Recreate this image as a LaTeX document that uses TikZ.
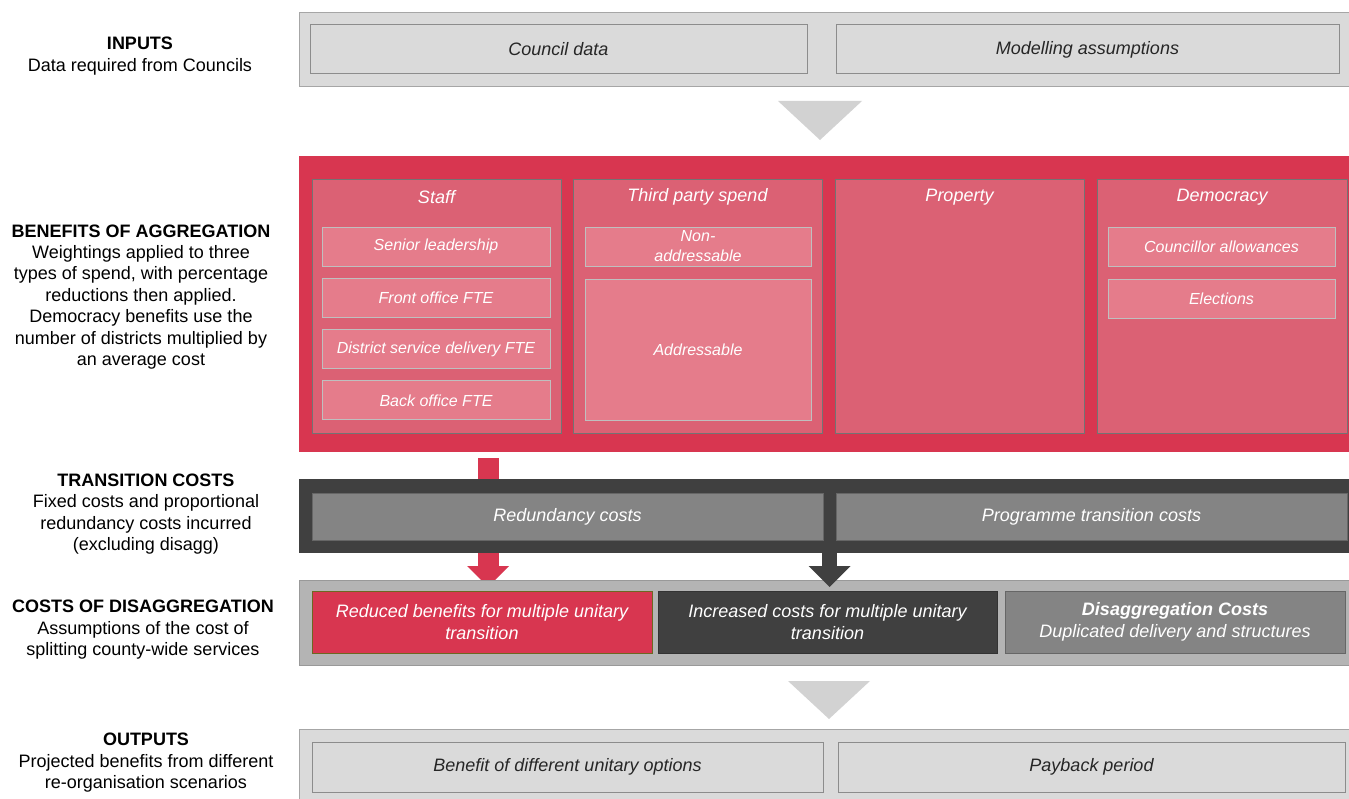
\documentclass[tikz,border=0pt]{standalone}
\usepackage{fontspec}
\setmainfont{Liberation Sans}
\usetikzlibrary{arrows.meta,calc}

\definecolor{aggred}{HTML}{D83650}
\definecolor{colred}{HTML}{DB6174}
\definecolor{itemred}{HTML}{E57C8B}
\definecolor{darkband}{HTML}{404040}
\definecolor{midgray}{HTML}{848484}
\definecolor{lightband}{HTML}{DADADA}
\definecolor{disband}{HTML}{B4B4B4}
\definecolor{pointer}{HTML}{D2D2D2}

\begin{document}
\begin{tikzpicture}[x=0.75pt, y=-0.75pt,
	size/.style 2 args={minimum width=#1*0.75pt, minimum height=#2*0.75pt, anchor=north west},
	band/.style={inner sep=0pt, outer sep=0pt, line width=0.75pt},
	boxtext/.style={align=center, font=\fontsize{13.5}{16.5}\selectfont\itshape},
	lightshell/.style={band, fill=lightband, draw=black!35},
	lightbox/.style={band, boxtext, fill=lightband, draw=black!45, text=black!85},
	aggshell/.style={band, fill=aggred},
	column/.style={band, fill=colred, draw=black!55},
	item/.style={band, fill=itemred, draw=black!25, text=white, align=center,
		font=\fontsize{12}{15}\selectfont\itshape},
	head/.style={boxtext, text=white, inner sep=0pt},
	darkshell/.style={band, fill=darkband},
	midbox/.style={band, boxtext, fill=midgray, draw=black!60, text=white},
	lab/.style={align=center, inner sep=0pt, font=\fontsize{13.5}{16.1}\selectfont},
	blockarrow/.style={line width=#1, -{Triangle[width=31.5pt, length=15.75pt, line width=0pt]}}
	]
	\useasboundingbox (0,0) rectangle (1349,799);

	%side labels
	\node[lab] (inlab) at (140,56) {\textbf{INPUTS}\\Data required from Councils};
	\node[lab] (agglab) at (141,297) {\textbf{BENEFITS OF AGGREGATION}\\Weightings applied to three\\types of spend, with percentage\\reductions then applied.\\Democracy benefits use the\\number of districts multiplied by\\an average cost};
	\node[lab] (translab) at (146,514) {\textbf{TRANSITION COSTS}\\Fixed costs and proportional\\redundancy costs incurred\\(excluding disagg)};
	\node[lab] (dislab) at (143,630) {\textbf{COSTS OF DISAGGREGATION}\\Assumptions of the cost of\\splitting county-wide services};
	\node[lab] (outlab) at (146,763) {\textbf{OUTPUTS}\\Projected benefits from different\\re-organisation scenarios};

	%inputs
	\node[lightshell, size={1053}{74}] (inputs) at (299,13) {};
	\node[lightbox, size={497}{49}] (council) at (310,25) {Council data};
	\node[lightbox, size={503}{49}] (model) at (836,25) {Modelling assumptions};
	\fill[pointer] (778,101) -- (862,101) -- (820,140) -- cycle;

	%benefits of aggregation
	\node[aggshell, size={1053}{296}] (benefits) at (299,156) {};
	\node[column, size={249}{254}] (staff) at (312,179) {};
	\node[column, size={249}{254}] (third) at (573,179) {};
	\node[column, size={249}{254}] (property) at (835,179) {};
	\node[column, size={250}{254}] (democracy) at (1097,179) {};
	\node[head] (stafft) at ($(staff.north)+(0,18)$) {Staff};
	\node[head] (thirdt) at ($(third.north)+(0,18)$) {Third party spend};
	\node[head] (propertyt) at ($(property.north)+(0,18)$) {Property};
	\node[head] (democracyt) at ($(democracy.north)+(0,18)$) {Democracy};

	\foreach \t [count=\i] in {Senior leadership, Front office FTE, District service delivery FTE, Back office FTE}{
		\pgfmathsetmacro{\ytop}{227+51.3*(\i-1)}
		\node[item, size={228}{39}] (staff\i) at (322,\ytop) {\t};
	}
	\node[item, size={226}{39}] (nonaddr) at (585,227) {Non-\\addressable};
	\node[item, size={226}{141}] (addr) at (585,279) {Addressable};
	\node[item, size={227}{39}] (allow) at (1108,227) {Councillor allowances};
	\node[item, size={227}{39}] (elect) at (1108,279) {Elections};

	%red arrow runs behind the transition band
	\coordinate (redstart) at (488,458);
	\coordinate (redend) at (488,587);
	\draw[aggred, blockarrow=15.75pt] (redstart) -- (redend);

	%transition costs
	\node[darkshell, size={1053}{74}] (transition) at (299,479) {};
	\node[midbox, size={511}{47}] (redund) at (312,493) {Redundancy costs};
	\node[midbox, size={511}{47}] (programme) at (836,493) {Programme transition costs};

	%costs of disaggregation
	\node[band, fill=disband, draw=black!40, size={1053}{85}] (disagg) at (299,580) {};
	\node[band, boxtext, fill=aggred, draw=olive!70!black, text=white, size={340}{62}] (reduced) at (312,591) {Reduced benefits for multiple unitary\\transition};
	\node[band, boxtext, fill=darkband, draw=black!80, text=white, size={339}{62}] (increased) at (658,591) {Increased costs for multiple unitary\\transition};
	\node[midbox, size={340}{62}] (duplicated) at (1005,591) {\textbf{Disaggregation Costs}\\Duplicated delivery and structures};

	%dark arrow out of the gap between the transition boxes
	\coordinate (darkstart) at (829.5,553);
	\coordinate (darkend) at (829.5,587);
	\draw[darkband, blockarrow=11.25pt] (darkstart) -- (darkend);

	\fill[pointer] (788,681) -- (870,681) -- (829,719) -- cycle;

	%outputs
	\node[lightshell, size={1053}{73}] (outputs) at (299,729) {};
	\node[lightbox, size={511}{50}] (unitary) at (312,742) {Benefit of different unitary options};
	\node[lightbox, size={507}{50}] (payback) at (838,742) {Payback period};
\end{tikzpicture}
\end{document}
